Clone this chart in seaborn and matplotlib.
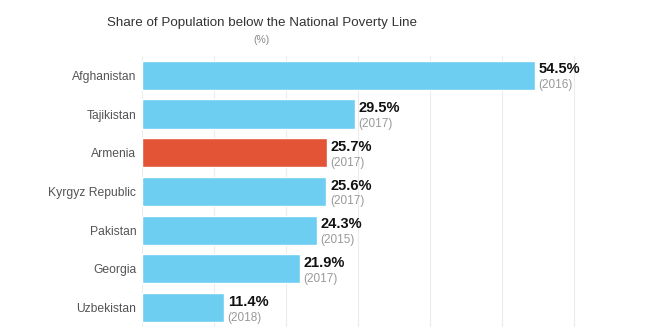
import matplotlib
matplotlib.use("Agg")
import matplotlib.pyplot as plt
import seaborn as sns
import pandas as pd

countries = ["Afghanistan", "Tajikistan", "Armenia", "Kyrgyz Republic", "Pakistan", "Georgia", "Uzbekistan"]
values = [54.5, 29.5, 25.7, 25.6, 24.3, 21.9, 11.4]
years = ["2016", "2017", "2017", "2017", "2015", "2017", "2018"]
highlight = "Armenia"

BLUE = "#6dcef2"
RED = "#e35335"

sns.set_style("white")
plt.rcParams['font.family'] = ['Liberation Sans', 'DejaVu Sans']

df = pd.DataFrame({"country": countries, "value": values, "year": years})
palette = {c: (RED if c == highlight else BLUE) for c in countries}

fig = plt.figure(figsize=(6.45, 3.27), dpi=100)
ax = fig.add_axes([0.220, 0.0, 0.771, 0.829])

sns.barplot(data=df, x="value", y="country", hue="country", palette=palette,
            order=countries, width=0.75, legend=False, ax=ax, saturation=1)

ax.set_xlim(0, 69)
ax.set_xticks(range(0, 70, 10))
ax.xaxis.grid(True, color="#ececec", linewidth=0.8)
ax.set_axisbelow(True)
ax.tick_params(axis="x", bottom=False, labelbottom=False)
ax.tick_params(axis="y", left=False, length=0, labelsize=8.7, labelcolor="#555555", pad=4)
ax.set_xlabel("")
ax.set_ylabel("")
for s in ax.spines.values():
    s.set_visible(False)

for i, (v, yr) in enumerate(zip(values, years)):
    ax.text(v + 0.5, i + 0.03, f"{v}%", ha="left", va="bottom",
            fontsize=10.5, fontweight="bold", color="#111111")
    ax.text(v + 0.5, i + 0.1, f"({yr})", ha="left", va="top",
            fontsize=8.5, color="#999999")

fig.text(262 / 645, 1 - 23 / 327, "Share of Population below the National Poverty Line",
         ha="center", va="center", fontsize=9.6, color="#333333")
fig.text(262 / 645, 1 - 40 / 327, "(%)", ha="center", va="center",
         fontsize=7.5, color="#888888")

fig.savefig("out.png", dpi=100)
